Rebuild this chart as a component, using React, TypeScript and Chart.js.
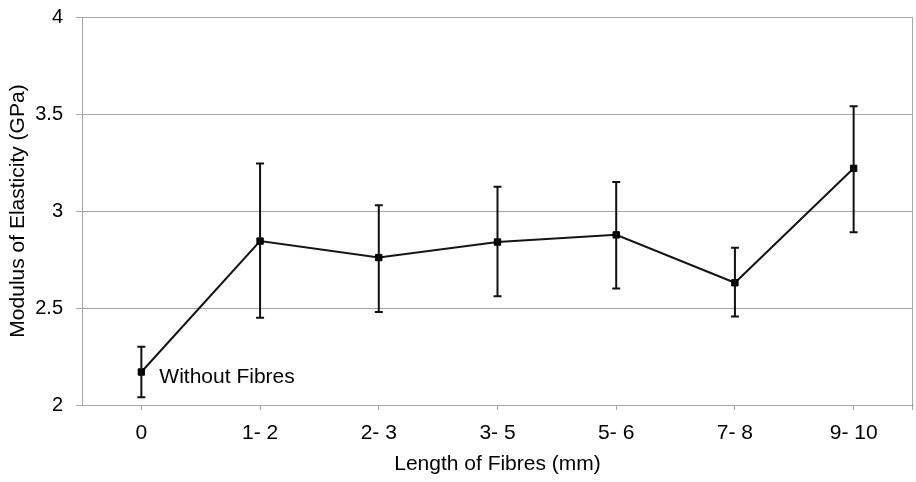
import { useEffect, useRef } from "react";
import { Chart, registerables } from "chart.js";

Chart.register(...registerables);

const categories = ["0", "1- 2", "2- 3", "3- 5", "5- 6", "7- 8", "9- 10"];
const modulus = [2.17, 2.845, 2.76, 2.84, 2.877, 2.63, 3.22];
const errorHigh = [2.3, 3.245, 3.03, 3.125, 3.15, 2.81, 3.54];
const errorLow = [2.04, 2.45, 2.48, 2.56, 2.6, 2.456, 2.89];
const yTicks = [2, 2.5, 3, 3.5, 4];
const pointNotes = ["Without Fibres", "", "", "", "", "", ""];

const FONT = "'Liberation Sans', Arial, sans-serif";
const GRID = "#a6a6a6";

const errorBarPlugin = {
  id: "errorBars",
  afterDatasetsDraw(chart: any) {
    const { ctx, scales, chartArea } = chart;
    const xs = scales.x;
    const ys = scales.y;
    ctx.save();
    // right border of plot area with its tick
    ctx.strokeStyle = GRID;
    ctx.lineWidth = 1;
    ctx.beginPath();
    ctx.moveTo(Math.round(chartArea.right) - 0.5, chartArea.top);
    ctx.lineTo(Math.round(chartArea.right) - 0.5, chartArea.bottom + 5);
    ctx.stroke();
    // error bars
    ctx.strokeStyle = "#111";
    ctx.lineWidth = 2;
    for (let i = 0; i < categories.length; i++) {
      const x = xs.getPixelForValue(i);
      const yt = ys.getPixelForValue(errorHigh[i]);
      const yb = ys.getPixelForValue(errorLow[i]);
      ctx.beginPath();
      ctx.moveTo(x, yt);
      ctx.lineTo(x, yb);
      ctx.moveTo(x - 4, yt);
      ctx.lineTo(x + 4, yt);
      ctx.moveTo(x - 4, yb);
      ctx.lineTo(x + 4, yb);
      ctx.stroke();
    }
    // point notes
    ctx.fillStyle = "#000";
    ctx.font = `21px ${FONT}`;
    ctx.textAlign = "left";
    ctx.textBaseline = "middle";
    for (let i = 0; i < pointNotes.length; i++) {
      if (!pointNotes[i]) continue;
      const x = xs.getPixelForValue(i);
      const y = ys.getPixelForValue(modulus[i]);
      ctx.fillText(pointNotes[i], x + 18, y + 5);
    }
    ctx.restore();
  },
};

export default function App() {
  const ref = useRef<HTMLCanvasElement>(null);

  useEffect(() => {
    if (!ref.current) return;
    const chart = new Chart(ref.current, {
      type: "line",
      data: {
        labels: categories,
        datasets: [
          {
            data: modulus,
            borderColor: "#151515",
            borderWidth: 2,
            tension: 0,
            pointStyle: "rect",
            pointRadius: 4.5,
            pointBorderWidth: 1,
            pointBackgroundColor: "#000",
            pointBorderColor: "#000",
            fill: false,
          },
        ],
      },
      plugins: [errorBarPlugin],
      options: {
        animation: false,
        responsive: false,
        devicePixelRatio: 1,
        layout: { autoPadding: false, padding: { top: 17, right: 3, left: 0, bottom: 0 } },
        plugins: {
          legend: { display: false },
          tooltip: { enabled: false },
        },
        scales: {
          x: {
            type: "category",
            offset: true,
            grid: {
              offset: false,
              drawOnChartArea: false,
              drawTicks: true,
              tickLength: 5,
              color: GRID,
            },
            border: { display: true, color: GRID },
            ticks: {
              autoSkip: false,
              maxRotation: 0,
              minRotation: 0,
              padding: 11,
              color: "#000",
              font: { family: FONT, size: 21 },
            },
            title: {
              display: true,
              text: "Length of Fibres (mm)",
              color: "#000",
              font: { family: FONT, size: 21 },
              padding: { top: 0, bottom: 5 },
            },
            afterFit(scale: any) {
              scale.height = 77;
              scale.paddingLeft = 0;
              scale.paddingRight = 0;
            },
          },
          y: {
            type: "linear",
            min: yTicks[0],
            max: yTicks[yTicks.length - 1],
            afterBuildTicks(scale: any) {
              scale.ticks = yTicks.map((v) => ({ value: v }));
            },
            grid: {
              color: GRID,
              lineWidth: 1,
              drawTicks: true,
              tickLength: 6,
            },
            border: { display: true, color: GRID },
            ticks: {
              padding: 13,
              color: "#000",
              font: { family: FONT, size: 20 },
              callback: (v: any) => String(v),
            },
            title: {
              display: true,
              text: "Modulus of Elasticity (GPa)",
              color: "#000",
              font: { family: FONT, size: 21 },
              padding: { top: 6, bottom: 0 },
            },
            afterFit(scale: any) {
              scale.width = 82;
              scale.paddingTop = 0;
              scale.paddingBottom = 0;
            },
          },
        },
      },
    });
    return () => chart.destroy();
  }, []);

  return (
    <div style={{ position: "fixed", left: 0, top: 0, width: 916, height: 482, background: "#fff" }}>
      <canvas ref={ref} width={916} height={482} style={{ width: 916, height: 482 }} />
    </div>
  );
}
